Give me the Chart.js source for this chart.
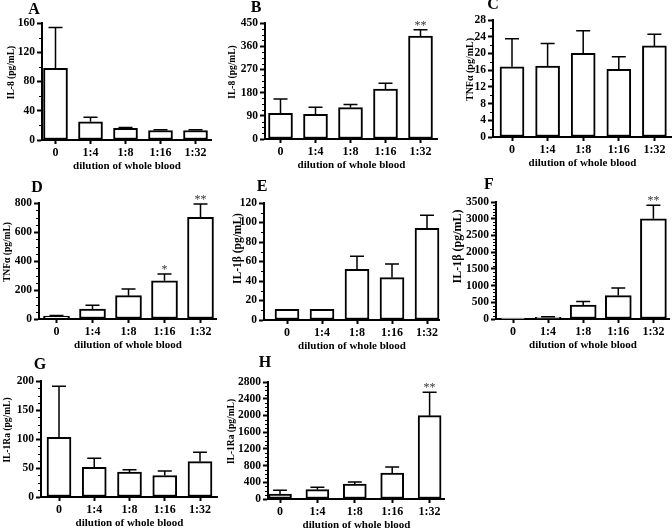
<!DOCTYPE html>
<html>
<head>
<meta charset="utf-8">
<script src="https://cdn.jsdelivr.net/npm/chart.js@4.4.0/dist/chart.umd.min.js"></script>
<style>
  html, body { margin: 0; padding: 0; background: #fff; }
  #fig { position: relative; width: 672px; height: 530px; overflow: hidden; background: #fff; }
  #fig canvas { position: absolute; }
</style>
</head>
<body>
<div id="fig"></div>
<script>
const dilutions = ['0', '1:4', '1:8', '1:16', '1:32'];

// A - IL-8
const il8A = [98, 25, 16, 13, 13];
const il8A_sd = [56, 6, 1, 1, 1];
const il8A_ticks = [0, 40, 80, 120, 160];

// B - IL-8
const il8B = [100, 96, 122, 194, 399];
const il8B_sd = [55, 27, 12, 22, 25];
const il8B_ticks = [0, 90, 180, 270, 360, 450];
const il8B_sig = ['', '', '', '', '**'];

// C - TNFa
const tnfC = [16.8, 17, 20, 16.2, 21.8];
const tnfC_sd = [6.7, 5.4, 5.4, 3.0, 2.8];
const tnfC_ticks = [0, 4, 8, 12, 16, 20, 24, 28];

// D - TNFa
const tnfD = [20, 69, 161, 264, 701];
const tnfD_sd = [5, 25, 46, 46, 92];
const tnfD_ticks = [0, 200, 400, 600, 800];
const tnfD_sig = ['', '', '', '*', '**'];

// E - IL-1b
const il1bE = [11, 11, 52, 43.5, 94];
const il1bE_sd = [0, 0, 13.5, 14, 13.5];
const il1bE_ticks = [0, 20, 40, 60, 80, 100, 120];

// F - IL-1b
const il1bF = [25, 50, 420, 700, 3000];
const il1bF_sd = [0, 20, 100, 230, 400];
const il1bF_ticks = [0, 500, 1000, 1500, 2000, 2500, 3000, 3500];
const il1bF_sig = ['', '', '', '', '**'];

// G - IL-1Ra
const il1raG = [103, 51, 43, 37, 61];
const il1raG_sd = [88, 16, 4, 8, 16];
const il1raG_ticks = [0, 50, 100, 150, 200];

// H - IL-1Ra
const il1raH = [120, 223, 359, 622, 1995];
const il1raH_sd = [87, 57, 48, 144, 558];
const il1raH_ticks = [0, 400, 800, 1200, 1600, 2000, 2400, 2800];
const il1raH_sig = ['', '', '', '', '**'];

const serif = "'Liberation Serif', 'Times New Roman', serif";
Chart.defaults.font.family = serif;
Chart.defaults.color = '#000';

// box = [left, top, right, bottom] of the plot area on the page
const panels = [
  { letter: 'A', title: 'IL-8 (pg/mL)', means: il8A, sd: il8A_sd, ticks: il8A_ticks, minor: 20,
    box: [42, 23, 212, 140], c0: 55.5, step: 35, bw: 24, tdx: 30, tdy: -9, tsize: 9.5, ldx: -8, ldy: -13 },
  { letter: 'B', title: 'IL-8 (pg/mL)', means: il8B, sd: il8B_sd, ticks: il8B_ticks, minor: 22.5, sig: il8B_sig,
    box: [265, 23, 438, 139], c0: 280.5, step: 35, bw: 24, tdx: 32, tdy: -9, tsize: 9.5, ldx: -9, ldy: -15 },
  { letter: 'C', title: 'TNFα (pg/mL)', means: tnfC, sd: tnfC_sd, ticks: tnfC_ticks, minor: 2,
    box: [493, 20, 672, 137], c0: 512, step: 35.6, bw: 24, tdx: 23, tdy: -9, tsize: 10, ldx: 0, ldy: -15 },
  { letter: 'D', title: 'TNFα (pg/mL)', means: tnfD, sd: tnfD_sd, ticks: tnfD_ticks, minor: 50, sig: tnfD_sig,
    box: [39, 203, 217, 319], c0: 56.5, step: 36, bw: 26, tdx: 31, tdy: -9, tsize: 9.5, ldx: -2, ldy: -15 },
  { letter: 'E', title: 'IL-1β (pg/mL)', means: il1bE, sd: il1bE_sd, ticks: il1bE_ticks, minor: 10,
    box: [264, 203, 440, 320], c0: 287, step: 35, bw: 24, tdx: 26, tdy: -13, tsize: 11.5, ldx: -2, ldy: -16 },
  { letter: 'F', title: 'IL-1β (pg/mL)', means: il1bF, sd: il1bF_sd, ticks: il1bF_ticks, minor: 100, sig: il1bF_sig,
    box: [496, 202, 670, 319], c0: 513, step: 35.1, bw: 26, tdx: 38, tdy: -14, tsize: 12, ldx: -7, ldy: -17 },
  { letter: 'G', title: 'IL-1Ra (pg/mL)', means: il1raG, sd: il1raG_sd, ticks: il1raG_ticks, minor: 12.5,
    box: [41, 381, 218, 497], c0: 59, step: 35.25, bw: 24, tdx: 33, tdy: -9, tsize: 9.5, ldx: -1, ldy: -16 },
  { letter: 'H', title: 'IL-1Ra (pg/mL)', means: il1raH, sd: il1raH_sd, ticks: il1raH_ticks, minor: 100, sig: il1raH_sig,
    box: [268, 382, 445, 499], c0: 280, step: 37.4, bw: 23, tdx: 36, tdy: -9, tsize: 9.5, ldx: -3, ldy: -19 }
];

// error bars, minor ticks, y title, panel letter, significance stars
function extras(p) {
  return {
    id: 'extras',
    afterDatasetsDraw(chart) {
      const { ctx, chartArea, scales: { x, y } } = chart;
      ctx.save();
      ctx.strokeStyle = '#000';
      ctx.fillStyle = '#000';
      ctx.lineWidth = 1.5;
      p.means.forEach((m, i) => {
        const px = x.getPixelForValue(i);
        const top = y.getPixelForValue(m + p.sd[i]);
        if (p.sd[i] > 0) {
          ctx.beginPath();
          ctx.moveTo(px, y.getPixelForValue(m));
          ctx.lineTo(px, top);
          ctx.moveTo(px - 7, top);
          ctx.lineTo(px + 7, top);
          ctx.stroke();
        }
        if (p.sig && p.sig[i]) {
          ctx.fillStyle = '#333';
          ctx.font = '12px ' + serif;
          ctx.textAlign = 'center';
          ctx.textBaseline = 'bottom';
          ctx.fillText(p.sig[i], px, top + 2);
          ctx.fillStyle = '#000';
        }
      });

      // minor ticks
      const yMax = p.ticks[p.ticks.length - 1];
      ctx.lineWidth = 1;
      for (let v = 0; v <= yMax + 1e-9; v += p.minor) {
        if (p.ticks.some(t => Math.abs(t - v) < 1e-6)) continue;
        const py = Math.round(y.getPixelForValue(v)) + 0.5;
        ctx.beginPath();
        ctx.moveTo(chartArea.left - 3, py);
        ctx.lineTo(chartArea.left, py);
        ctx.stroke();
      }

      // y title
      ctx.save();
      ctx.translate(chartArea.left - p.tdx, (chartArea.top + chartArea.bottom) / 2 + p.tdy);
      ctx.rotate(-Math.PI / 2);
      ctx.font = 'bold ' + p.tsize + 'px ' + serif;
      ctx.textAlign = 'center';
      ctx.textBaseline = 'middle';
      ctx.fillText(p.title, 0, 0);
      ctx.restore();

      // panel letter
      ctx.font = 'bold 16px ' + serif;
      ctx.textAlign = 'center';
      ctx.textBaseline = 'middle';
      ctx.fillText(p.letter, chartArea.left + p.ldx, chartArea.top + p.ldy);
      ctx.restore();
    }
  };
}

const fig = document.getElementById('fig');

panels.forEach(p => {
  const [L, T, R, B] = p.box;
  const yW = p.tdx + 8;
  const pt = 30, hx = 33;
  const cx = L - yW, cy = T - pt;
  const canvas = document.createElement('canvas');
  canvas.width = R - cx;
  canvas.height = B + hx - cy;
  canvas.style.left = cx + 'px';
  canvas.style.top = cy + 'px';
  canvas.style.width = canvas.width + 'px';
  canvas.style.height = canvas.height + 'px';
  fig.appendChild(canvas);

  new Chart(canvas, {
    type: 'bar',
    data: {
      datasets: [{
        data: p.means.map((v, i) => ({ x: i, y: v })),
        backgroundColor: '#fff',
        borderColor: '#000',
        borderWidth: 2,
        borderSkipped: false,
        barThickness: p.bw
      }]
    },
    options: {
      responsive: false,
      animation: false,
      devicePixelRatio: 1,
      layout: { padding: { left: 0, top: pt, right: 0, bottom: 0 } },
      plugins: { legend: { display: false }, tooltip: { enabled: false } },
      scales: {
        x: {
          type: 'linear',
          offset: false,
          bounds: 'data',
          min: (L - p.c0) / p.step,
          max: (R - p.c0) / p.step,
          afterBuildTicks: s => { s.ticks = dilutions.map((d, i) => ({ value: i })); },
          afterFit: s => { s.height = hx; },
          ticks: {
            callback: v => dilutions[v],
            color: '#000',
            font: { size: 12, weight: 'bold' },
            padding: 2,
            maxRotation: 0,
            autoSkip: false
          },
          grid: { offset: false, drawOnChartArea: false, tickLength: 4, tickWidth: 2, tickColor: '#000' },
          border: { color: '#000', width: 2 },
          title: {
            display: true,
            text: 'dilution of whole blood',
            color: '#000',
            font: { size: 11, weight: 'bold', lineHeight: 1.2 },
            padding: 0
          }
        },
        y: {
          min: 0,
          max: p.ticks[p.ticks.length - 1],
          afterBuildTicks: s => { s.ticks = p.ticks.map(v => ({ value: v })); },
          afterFit: s => { s.width = yW; },
          ticks: {
            callback: v => String(v),
            color: '#000',
            font: { size: 11.5, weight: 'bold' },
            padding: 2,
            autoSkip: false
          },
          grid: { drawOnChartArea: false, tickLength: 5, tickWidth: 2, tickColor: '#000' },
          border: { color: '#000', width: 2 }
        }
      }
    },
    plugins: [extras(p)]
  });
});
</script>
</body>
</html>
